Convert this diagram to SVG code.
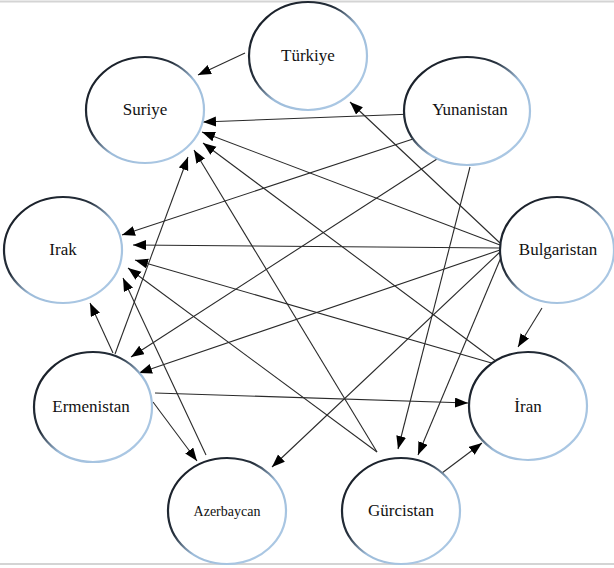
<svg xmlns="http://www.w3.org/2000/svg" width="614" height="568" viewBox="0 0 614 568">
<style>
  .node ellipse { fill: #ffffff; stroke: url(#ring); stroke-width: 2.2; }
  .node text { font-family: "Liberation Serif", "Times New Roman", serif; font-size: 17px; fill: #111111; text-anchor: middle; }
  .node text.small { font-size: 14px; }
  .edges line { stroke: #2a2a2a; stroke-width: 1.1; marker-end: url(#arrow); }
  .frame { stroke: #d4d4d4; stroke-width: 2; }
</style>
<defs>
  <linearGradient id="ring" x1="0.1" y1="0.15" x2="0.8" y2="0.85">
    <stop offset="0" stop-color="#1a2029"/>
    <stop offset="0.38" stop-color="#26303c"/>
    <stop offset="0.62" stop-color="#9dbcda"/>
    <stop offset="1" stop-color="#aac7e3"/>
  </linearGradient>
  <marker id="arrow" markerUnits="userSpaceOnUse" markerWidth="14" markerHeight="11" refX="13" refY="5" orient="auto">
    <path d="M0,0 L13,5 L0,10 Z" fill="#000"/>
  </marker>
</defs>
<rect width="614" height="568" fill="#ffffff"/>
<line class="frame" x1="0" y1="1.5" x2="614" y2="1.5"/>
<line class="frame" x1="0" y1="564" x2="614" y2="564"/>

<g class="edges">
  <line x1="245" y1="53" x2="198" y2="75"/>
  <line x1="413" y1="114" x2="203" y2="122"/>
  <line x1="416" y1="138" x2="122" y2="235"/>
  <line x1="437" y1="159" x2="131" y2="357"/>
  <line x1="470" y1="167" x2="398" y2="449"/>
  <line x1="500" y1="243" x2="350" y2="102"/>
  <line x1="500" y1="245" x2="202" y2="132"/>
  <line x1="500" y1="248" x2="133" y2="245"/>
  <line x1="500" y1="250" x2="139" y2="373"/>
  <line x1="500" y1="252" x2="272" y2="467"/>
  <line x1="502" y1="255" x2="418" y2="455"/>
  <line x1="542" y1="308" x2="518" y2="347"/>
  <line x1="497" y1="362" x2="203" y2="143"/>
  <line x1="495" y1="364" x2="135" y2="260"/>
  <line x1="377" y1="452" x2="194" y2="150"/>
  <line x1="377" y1="452" x2="128" y2="268"/>
  <line x1="442" y1="473" x2="482" y2="443"/>
  <line x1="115" y1="354" x2="188" y2="157"/>
  <line x1="113" y1="353" x2="90" y2="303"/>
  <line x1="155" y1="393" x2="468" y2="403"/>
  <line x1="153" y1="402" x2="197" y2="461"/>
  <line x1="206" y1="455" x2="123" y2="278"/>
</g>

<g id="turkiye" class="node"><ellipse cx="308" cy="56" rx="59" ry="54"/><text x="308" y="61">Türkiye</text></g>
<g id="suriye" class="node"><ellipse cx="145" cy="110" rx="59" ry="53"/><text x="145" y="115">Suriye</text></g>
<g id="yunanistan" class="node"><ellipse cx="467" cy="111" rx="63" ry="54"/><text x="470" y="115">Yunanistan</text></g>
<g id="irak" class="node"><ellipse cx="63" cy="250" rx="59" ry="53"/><text x="63" y="255">Irak</text></g>
<g id="bulgaristan" class="node"><ellipse cx="557" cy="250" rx="57" ry="53"/><text x="558" y="255">Bulgaristan</text></g>
<g id="ermenistan" class="node"><ellipse cx="93" cy="407" rx="59" ry="55"/><text x="91" y="412">Ermenistan</text></g>
<g id="iran" class="node"><ellipse cx="528" cy="406" rx="59" ry="54"/><text x="528" y="412">İran</text></g>
<g id="azerbaycan" class="node"><ellipse cx="227" cy="511" rx="59" ry="53"/><text class="small" x="227" y="516">Azerbaycan</text></g>
<g id="gurcistan" class="node"><ellipse cx="401" cy="511" rx="59" ry="53"/><text x="401" y="516">Gürcistan</text></g>
</svg>
